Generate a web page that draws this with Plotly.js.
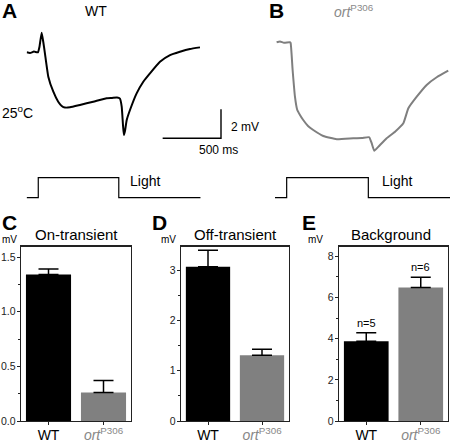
<!DOCTYPE html>
<html>
<head>
<meta charset="utf-8">
<script src="https://cdn.plot.ly/plotly-3.0.1.min.js"></script>
<style>html,body{margin:0;padding:0;background:#fff;} #chart{width:450px;height:442px;}</style>
</head>
<body>
<div id="chart"></div>
<script>
// ---- Data ----
// Panel A: WT ERG trace (time in ms from light onset, voltage in mV relative to baseline)
var tA = [-99,-71,-37,-3,10,29,43,57,86,129,171,201,229,272,357,471,586,632,674,700,715,726,734,743,758,786,843,900,957,1043,1129,1214,1300,1386];
var vA = [0,-0.05,0.05,0,0.37,1.35,0.71,-0.07,-1.68,-2.72,-3.41,-3.70,-3.81,-3.79,-3.63,-3.41,-3.17,-3.15,-3.12,-3.20,-3.75,-5.01,-5.70,-5.43,-4.67,-3.98,-2.83,-2.03,-1.45,-0.65,-0.19,0.04,0.23,0.34];
// Panel B: ort P306 trace
var tB = [-86,-57,-23,28,34,51,71,91,114,142,183,228,314,429,571,646,708,729,751,785,857,929,1000,1043,1115,1200,1286,1385];
var vB = [0,0.06,-0.03,0,-0.05,-1.91,-3.75,-4.67,-5.01,-5.36,-5.77,-6.05,-6.46,-6.69,-6.62,-6.60,-6.55,-6.97,-7.48,-7.21,-6.62,-6.17,-5.59,-4.55,-3.75,-2.94,-2.41,-1.96];
// Light stimulus (0 = off, 1 = on)
var lightTA = [-100,0,0,690,690,1390];
var lightTB = [-100,0,0,700,700,1400];
var lightLevel = [0,0,1,1,0,0];
// Scale bar
var scaleBarMs = 500, scaleBarMv = 2;
var scaleBarStartMs = 1066, scaleBarStartMv = -5.93;

// Bar panels
var categories = ['WT','ort'];
var tickLabels = ['WT', '<span style="color:#888"><i>ort</i><sup>P306</sup></span>'];
var onMean = [1.34, 0.26], onErr = [0.05, 0.11];
var offMean = [3.07, 1.31], offErr = [0.33, 0.12];
var bgMean = [3.88, 6.49], bgErr = [0.41, 0.50];
var nLabels = ['n=5','n=6'];
var barColors = ['#000000','#808080'];

// ---- Helpers ----
var W = 450, H = 442;
function px(x){return x/W;}
function py(y){return 1 - y/H;}
var FONT = 'Liberation Sans, Arial, Helvetica, sans-serif';

var traces = [];
traces.push({x:tA, y:vA, xaxis:'x', yaxis:'y', mode:'lines', line:{color:'#000', width:2, shape:'spline', smoothing:0.4}, hoverinfo:'skip'});
traces.push({x:tB, y:vB, xaxis:'x2', yaxis:'y2', mode:'lines', line:{color:'#7f7f7f', width:2, shape:'spline', smoothing:0.4}, hoverinfo:'skip'});
traces.push({x:lightTA, y:lightLevel, xaxis:'x', yaxis:'y3', mode:'lines', line:{color:'#000', width:1.2}, hoverinfo:'skip'});
traces.push({x:lightTB, y:lightLevel, xaxis:'x2', yaxis:'y4', mode:'lines', line:{color:'#000', width:1.2}, hoverinfo:'skip'});
traces.push({x:[scaleBarStartMs, scaleBarStartMs+scaleBarMs, scaleBarStartMs+scaleBarMs],
             y:[scaleBarStartMv, scaleBarStartMv, scaleBarStartMv+scaleBarMv],
             xaxis:'x', yaxis:'y', mode:'lines', line:{color:'#000', width:1.4}, hoverinfo:'skip'});

function barTrace(means, errs, ax){
  return {type:'bar', x:categories, y:means, xaxis:'x'+ax, yaxis:'y'+ax, width:0.82,
    marker:{color:barColors, line:{width:0}},
    error_y:{type:'data', symmetric:false, array:errs, arrayminus:[0,0], color:'#000', thickness:1.5, width:10},
    hoverinfo:'skip'};
}
traces.push(barTrace(onMean, onErr, 5));
traces.push(barTrace(offMean, offErr, 6));
traces.push(barTrace(bgMean, bgErr, 7));

var hidden = {visible:false, fixedrange:true};
function xbar(d0,d1,anchor){
  return {domain:[px(d0),px(d1)], anchor:anchor, type:'category', range:[-0.5,1.5],
    showline:true, mirror:true, linecolor:'#222', linewidth:1.3, ticks:'outside', ticklen:3, tickcolor:'#222',
    ticklabelstandoff:-2,
    tickvals:categories, ticktext:tickLabels, tickfont:{family:FONT, size:14, color:'#000'}, showgrid:false, zeroline:false};
}
function ybar(range, dtick, minor, anchor, fmt){
  return {domain:[py(421), py(246.7)], anchor:anchor, range:range, dtick:dtick, tick0:0,
    showline:true, mirror:true, linecolor:'#222', linewidth:1.3, ticks:'outside', ticklen:3, tickcolor:'#222',
    ticklabelstandoff:-1,
    minor:{dtick:minor, ticks:'outside', ticklen:2, tickcolor:'#222', showgrid:false},
    tickformat:fmt, tickfont:{family:FONT, size:10.5, color:'#222'}, showgrid:false, zeroline:false};
}

var layout = {
  width:W, height:H, margin:{l:0,r:0,t:0,b:0}, paper_bgcolor:'#fff', plot_bgcolor:'rgba(0,0,0,0)',
  showlegend:false, font:{family:FONT, color:'#000'},
  xaxis: Object.assign({domain:[px(26.6), px(230.8)], range:[-100,1650], anchor:'y'}, hidden),
  yaxis: Object.assign({domain:[py(153.8), py(23.3)], range:[-7,2], anchor:'x'}, hidden),
  xaxis2: Object.assign({domain:[px(275), px(450)], range:[-100,1400], anchor:'y2'}, hidden),
  yaxis2: Object.assign({domain:[py(172.8), py(27.8)], range:[-9,1], anchor:'x2'}, hidden),
  yaxis3: Object.assign({domain:[py(201.7), py(173.7)], range:[-0.2,1.2], anchor:'x'}, hidden),
  yaxis4: Object.assign({domain:[py(201.7), py(173.7)], range:[-0.2,1.2], anchor:'x2'}, hidden),
  xaxis5: xbar(21,131,'y5'), yaxis5: ybar([0,1.595],0.5,0.25,'x5','.1f'),
  xaxis6: xbar(181,289,'y6'), yaxis6: ybar([0,3.47],1,0.5,'x6','d'),
  xaxis7: xbar(339,448,'y7'), yaxis7: ybar([0,8.47],2,1,'x7','d'),
  annotations: []
};

function ann(text, x, y, opts){
  var a = Object.assign({text:text, x:px(x), y:py(y), xref:'paper', yref:'paper', showarrow:false,
    xanchor:'center', yanchor:'middle', font:{family:FONT, size:14, color:'#000'}}, opts||{});
  layout.annotations.push(a);
}
var bold = function(s){return {font:{family:FONT, size:21, color:'#000', weight:700}, xanchor:'left'};};
ann('<b>A</b>', 0, 10, bold());
ann('<b>B</b>', 267, 10, bold());
ann('<b>C</b>', 0, 222, bold());
ann('<b>D</b>', 150, 222, bold());
ann('<b>E</b>', 300, 222, bold());
ann('WT', 95.5, 11, {font:{family:FONT, size:14, color:'#000'}});
ann('<i>ort</i><sup>P306</sup>', 354, 11, {font:{family:FONT, size:14, color:'#8a8a8a'}});
ann('25<sup>o</sup>C', 0, 112, {xanchor:'left', font:{family:FONT, size:14, color:'#000'}});
ann('Light', 128, 181, {xanchor:'left', font:{family:FONT, size:14, color:'#000'}});
ann('Light', 380, 181, {xanchor:'left', font:{family:FONT, size:14, color:'#000'}});
ann('2 mV', 229, 127, {xanchor:'left', font:{family:FONT, size:12, color:'#000'}});
ann('500 ms', 218.5, 150, {font:{family:FONT, size:12, color:'#000'}});
ann('On-transient', 76, 234, {font:{family:FONT, size:15, color:'#000'}});
ann('Off-transient', 235, 234, {font:{family:FONT, size:15, color:'#000'}});
ann('Background', 391, 234, {font:{family:FONT, size:15, color:'#000'}});
ann('mV', 0, 240, {xanchor:'left', font:{family:FONT, size:10, color:'#000'}});
ann('mV', 159, 240, {xanchor:'left', font:{family:FONT, size:10, color:'#000'}});
ann('mV', 306, 240, {xanchor:'left', font:{family:FONT, size:10, color:'#000'}});
for (var i=0;i<categories.length;i++){
  layout.annotations.push({text:nLabels[i], x:categories[i], y:bgMean[i]+bgErr[i], xref:'x7', yref:'y7',
    showarrow:false, yanchor:'bottom', yshift:2, font:{family:FONT, size:11, color:'#000'}});
}

Plotly.newPlot('chart', traces, layout, {staticPlot:true, displayModeBar:false});
</script>
</body>
</html>
